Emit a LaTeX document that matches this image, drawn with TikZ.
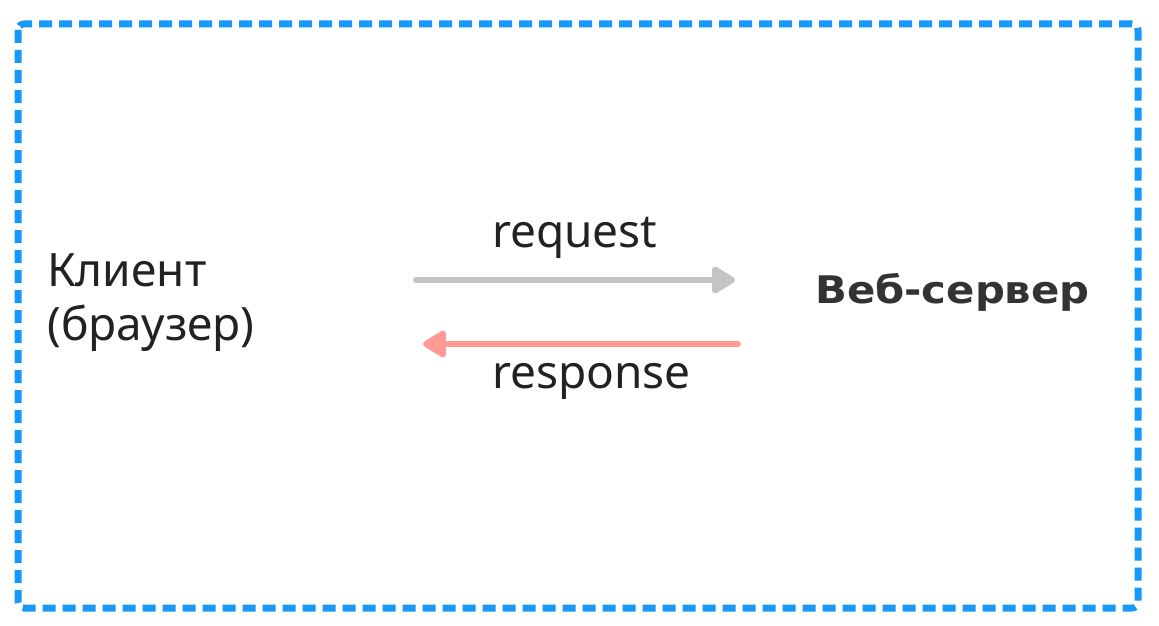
\documentclass[tikz,border=0pt]{standalone}
\usepackage{fontspec}
\setmainfont{Noto Sans}
\newfontfamily\srvfont{DejaVu Sans}[FakeStretch=1.1]
\usetikzlibrary{arrows.meta}
\definecolor{frameblue}{RGB}{24,153,250}
\definecolor{reqgray}{RGB}{196,196,196}
\definecolor{resred}{RGB}{255,155,148}
\definecolor{txt}{RGB}{34,34,34}
\definecolor{txtb}{RGB}{51,51,51}
\tikzset{
  lbl/.style={anchor=base west, inner sep=0pt, text=txt, font=\fontsize{46}{55}\selectfont},
  srv/.style={anchor=base west, inner sep=0pt, text=txtb, font=\srvfont\bfseries\fontsize{38}{45}\selectfont},
  flow/.style={line width=6pt, line cap=round, -{Triangle[length=26pt,width=30pt,round]}},
}
\begin{document}
\begin{tikzpicture}[x=1pt,y=1pt]
\useasboundingbox (0,0) rectangle (1159,-626);
\fill[white] (0,0) rectangle (1159,-626);
\draw[frameblue, line width=7pt, dash pattern=on 13pt off 7pt, rounded corners=6pt] (18,-24) rectangle (1138,-608);
\node[lbl] (client1) at (47,-286) {Клиент};
\node[lbl] (client2) at (47,-340) {(браузер)};
\node[lbl] (req) at (492,-247) {request};
\node[lbl] (resp) at (492,-388) {response};
\node[srv] (server) at (815,-303) {Веб-сервер};
\coordinate (reqA) at (416,-280);
\coordinate (reqB) at (735,-280);
\coordinate (resA) at (738,-344);
\coordinate (resB) at (423,-344);
\draw[flow, reqgray] (reqA) -- (reqB);
\draw[flow, resred] (resA) -- (resB);
\end{tikzpicture}
\end{document}
